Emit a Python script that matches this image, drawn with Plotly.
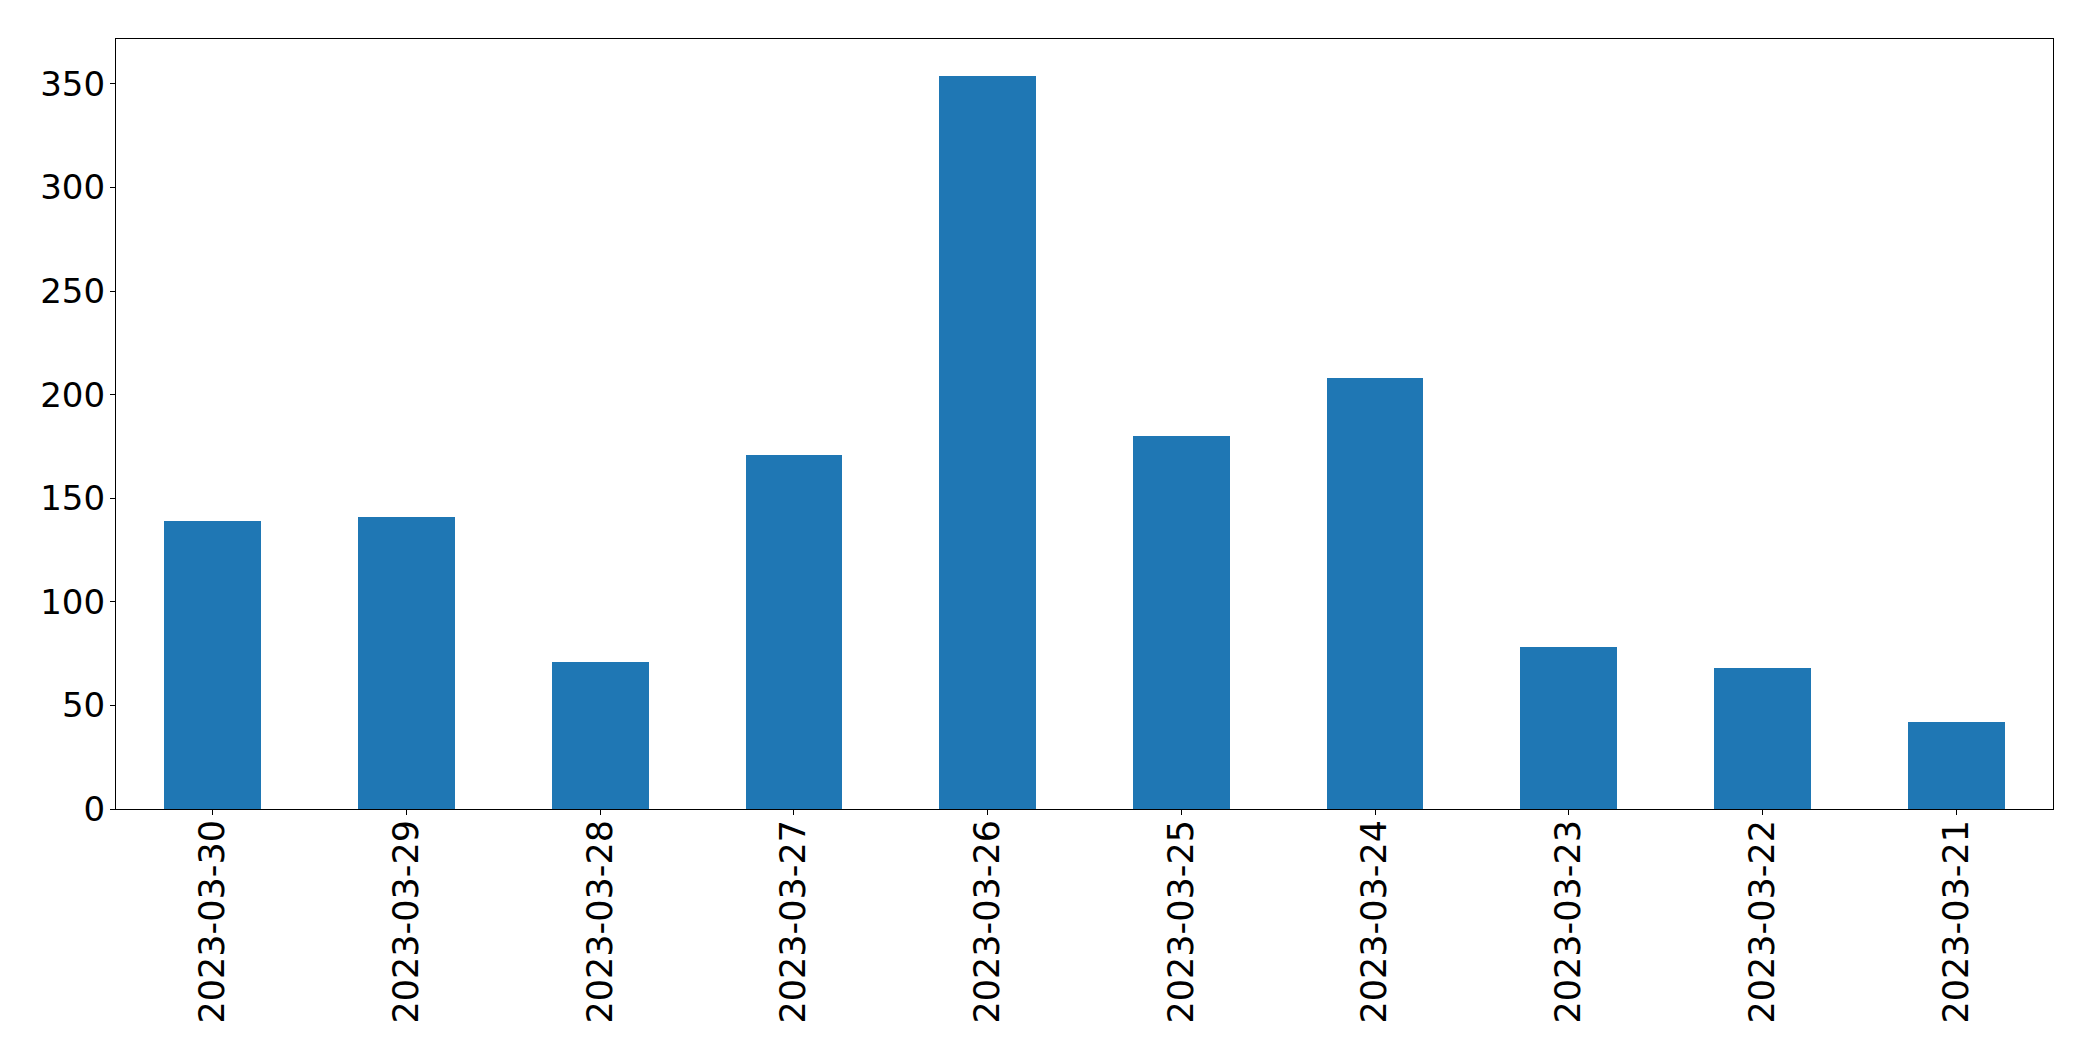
import plotly.graph_objects as go

dates = ["2023-03-30", "2023-03-29", "2023-03-28", "2023-03-27", "2023-03-26",
         "2023-03-25", "2023-03-24", "2023-03-23", "2023-03-22", "2023-03-21"]
counts = [139, 141, 71, 171, 354, 180, 208, 78, 68, 42]
y_ticks = [0, 50, 100, 150, 200, 250, 300, 350]

fig = go.Figure()
fig.add_trace(go.Bar(x=dates, y=counts, width=0.5, marker=dict(color="#1f77b4", line=dict(width=0))))

# page body has an 8px default margin, so the figure is offset by (8, 8)
fig.update_layout(
    width=2077, height=1045,
    margin=dict(l=108, r=32, t=31, b=244, autoexpand=False),
    plot_bgcolor="white", paper_bgcolor="white",
    font=dict(family="DejaVu Sans", size=33, color="black"),
    showlegend=False,
    bargap=0,
)
fig.update_xaxes(
    type="category", range=[-0.5, 9.5], automargin=False,
    showline=True, linecolor="black", linewidth=1.1, mirror=True,
    ticks="outside", ticklen=5, tickwidth=1.1, tickcolor="black",
    tickangle=-90, showgrid=False, zeroline=False,
    tickfont=dict(size=35),
    ticklabelstandoff=-9,
)
fig.update_yaxes(
    range=[0, max(counts) * 1.05], tickvals=y_ticks, automargin=False,
    showline=True, linecolor="black", linewidth=1.1, mirror=True,
    ticks="outside", ticklen=5, tickwidth=1.1, tickcolor="black",
    showgrid=False, zeroline=False,
    tickfont=dict(size=34),
    ticklabelstandoff=-2,
)

fig.write_html("out.html")
